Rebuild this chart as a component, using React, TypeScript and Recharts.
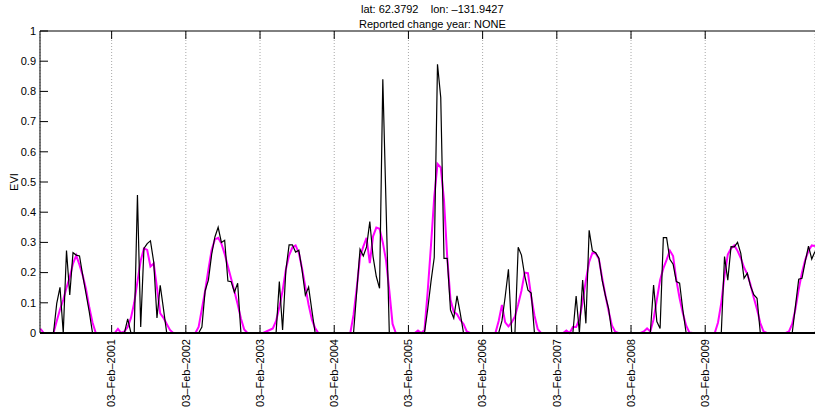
import { LineChart, Line, XAxis, YAxis, CartesianGrid, ReferenceLine } from "recharts";

// 16-day composites; the first year starts at composite 3 (day 49)
const years = [2000, 2001, 2002, 2003, 2004, 2005, 2006, 2007, 2008, 2009, 2010];
const firstComposite = 3;

// raw EVI (black), null = missing
const rawEvi: (number | null)[][] = [
  [null, 0, 0, 0, 0, 0.098, 0.151, 0, 0.273, 0.126, 0.266, 0.258, 0.255, 0.19, 0.13, 0.07, 0, 0, 0, 0],
  [null, null, 0, 0, 0, 0, 0, 0.047, 0, 0, 0.457, 0.02, 0.28, 0.296, 0.305, 0.235, 0.05, 0.158, 0.08, 0, 0, 0, 0],
  [null, null, 0, 0, 0, 0, 0, 0.02, 0.14, 0.175, 0.26, 0.318, 0.35, 0.3, 0.307, 0.172, 0.17, 0.135, 0.165, 0, 0, 0, 0],
  [0, null, null, 0, 0, 0, 0, 0, 0.17, 0.01, 0.207, 0.292, 0.292, 0.268, 0.274, 0.207, 0.125, 0.152, 0.075, 0, 0, 0, 0],
  [null, null, null, 0, 0, 0, 0, 0, 0, 0.14, 0.277, 0.255, 0.285, 0.369, 0.253, 0.187, 0.148, 0.84, 0.42, 0, 0, 0, 0],
  [null, null, null, 0, 0, 0, 0, 0, 0.08, 0.17, 0.25, 0.89, 0.78, 0.247, 0.247, 0.076, 0.049, 0.123, 0.065, 0, 0, 0, 0],
  [null, null, null, 0, 0, 0, 0, 0, 0.04, 0.12, 0.211, 0, 0, 0.284, 0.258, 0.19, 0.142, 0.132, 0, 0, 0, 0, 0],
  [null, null, null, 0, 0, 0, 0, 0, 0.122, 0, 0.175, 0.032, 0.34, 0.272, 0.266, 0.248, 0.175, 0.124, 0.08, 0, 0, 0, 0],
  [0, null, null, null, 0, 0, 0, 0, 0, 0.159, 0.038, 0.015, 0.316, 0.316, 0.244, 0.228, 0.17, 0.165, 0.076, 0, 0, 0, 0],
  [0, null, null, 0, 0, 0, 0, 0, 0.253, 0.175, 0.286, 0.285, 0.3, 0.264, 0.181, 0.198, 0.155, 0.127, 0.115, 0, 0, 0, 0],
  [null, null, null, 0, 0, 0, 0, 0.09, 0.178, 0.181, 0.236, 0.288, 0.245, 0.27],
];

// fitted EVI (magenta)
const fittedEvi: number[][] = [
  [0.014, 0, 0, 0, 0, 0.04, 0.078, 0.11, 0.15, 0.185, 0.23, 0.257, 0.225, 0.19, 0.145, 0.085, 0.035, 0, 0, 0],
  [0, 0, 0, 0, 0.014, 0, 0.005, 0.02, 0.05, 0.1, 0.17, 0.24, 0.28, 0.275, 0.22, 0.23, 0.15, 0.065, 0.05, 0.03, 0.01, 0, 0],
  [0, 0, 0, 0, 0, 0, 0.02, 0.08, 0.14, 0.21, 0.275, 0.31, 0.315, 0.296, 0.262, 0.22, 0.18, 0.138, 0.095, 0.048, 0.012, 0, 0],
  [0, 0, 0, 0, 0.005, 0.01, 0.015, 0.04, 0.085, 0.14, 0.21, 0.257, 0.283, 0.29, 0.265, 0.213, 0.152, 0.093, 0.045, 0.016, 0, 0, 0],
  [0, 0, 0, 0, 0, 0, 0, 0, 0.06, 0.15, 0.253, 0.286, 0.315, 0.231, 0.32, 0.349, 0.345, 0.3, 0.24, 0.14, 0.03, 0, 0],
  [0, 0, 0, 0, 0, 0.008, 0, 0.01, 0.14, 0.29, 0.45, 0.56, 0.548, 0.44, 0.25, 0.11, 0.07, 0.062, 0.043, 0.03, 0.005, 0, 0],
  [0, 0, 0, 0, 0, 0, 0, 0.04, 0.093, 0.035, 0.022, 0.035, 0.055, 0.095, 0.14, 0.2, 0.198, 0.12, 0.058, 0.013, 0, 0, 0],
  [0, 0, 0, 0, 0, 0.008, 0, 0.02, 0.02, 0.045, 0.105, 0.175, 0.235, 0.265, 0.264, 0.245, 0.182, 0.125, 0.072, 0.025, 0.004, 0, 0],
  [0, 0, 0, 0, 0, 0, 0.005, 0.015, 0.005, 0.045, 0.11, 0.175, 0.214, 0.242, 0.273, 0.255, 0.175, 0.115, 0.065, 0.025, 0.002, 0, 0],
  [0, 0, 0, 0, 0, 0, 0.035, 0.1, 0.19, 0.26, 0.28, 0.29, 0.272, 0.248, 0.217, 0.195, 0.16, 0.117, 0.078, 0.033, 0.005, 0, 0],
  [0, 0, 0, 0, 0, 0.005, 0.03, 0.08, 0.145, 0.2, 0.242, 0.272, 0.29, 0.288],
];

const tickYears = [2001, 2002, 2003, 2004, 2005, 2006, 2007, 2008, 2009];
const xTickLabels = [
  "03–Feb–2001", "03–Feb–2002", "03–Feb–2003", "03–Feb–2004", "03–Feb–2005",
  "03–Feb–2006", "03–Feb–2007", "03–Feb–2008", "03–Feb–2009",
];
const yTicks = [0, 0.1, 0.2, 0.3, 0.4, 0.5, 0.6, 0.7, 0.8, 0.9, 1];

const data = years.flatMap((year, i) => {
  const start = i === 0 ? firstComposite : 0;
  return rawEvi[i].map((raw, j) => ({
    t: year + ((start + j) * 16) / 365,
    raw,
    fit: fittedEvi[i][j],
  }));
});

const xTicks = tickYears.map((y) => y + 33 / 365);

const FONT = "'Liberation Sans', Arial, Helvetica, sans-serif";
const PLOT_H = 302;

const XTick = (props: any) => {
  const { x, y, index } = props;
  return (
    <g>
      <line x1={x} y1={y} x2={x} y2={y - 8} stroke="#000" />
      <line x1={x} y1={y - PLOT_H} x2={x} y2={y - PLOT_H + 8} stroke="#000" />
      <text
        x={x}
        y={y + 6}
        transform={`rotate(-90 ${x} ${y + 6})`}
        textAnchor="end"
        dy="0.35em"
        fontSize={11}
        fontFamily={FONT}
        fill="#000"
      >
        {xTickLabels[index]}
      </text>
    </g>
  );
};

const YTick = (props: any) => {
  const { x, y, payload } = props;
  return (
    <g>
      <line x1={x + 4} y1={y} x2={x + 12} y2={y} stroke="#000" />
      <text x={x} y={y} textAnchor="end" dy="0.35em" fontSize={11} fontFamily={FONT} fill="#000">
        {String(payload.value)}
      </text>
    </g>
  );
};

export default function App() {
  return (
    <div style={{ position: "absolute", left: 0, top: 0, width: 815, height: 409, background: "#fff", fontFamily: FONT }}>
      <div style={{ position: "absolute", left: 361, top: 3, fontSize: 11, lineHeight: "13px", whiteSpace: "pre", color: "#000" }}>
        {"lat: 62.3792    lon: –131.9427"}
      </div>
      <div style={{ position: "absolute", left: 359, top: 18, fontSize: 11, lineHeight: "13px", whiteSpace: "pre", color: "#000" }}>
        {"Reported change year: NONE"}
      </div>
      <LineChart width={815} height={409} data={data} margin={{ top: 31, right: 0, bottom: 0, left: 0 }}>
        <CartesianGrid horizontal={false} vertical stroke="#a8a8a8" strokeDasharray="1 2" />
        <XAxis
          dataKey="t"
          type="number"
          domain={[2000.125, 2010.57]}
          allowDataOverflow
          ticks={xTicks}
          interval={0}
          height={76}
          tickSize={0}
          tickMargin={0}
          tickLine={false}
          axisLine={{ stroke: "#000", strokeWidth: 2 }}
          tick={<XTick />}
        />
        <YAxis
          type="number"
          domain={[0, 1]}
          ticks={yTicks}
          interval={0}
          width={40}
          tickSize={0}
          tickMargin={4}
          tickLine={false}
          axisLine={{ stroke: "#000" }}
          tick={<YTick />}
          label={{
            content: () => (
              <text x={14} y={182} transform="rotate(-90 14 182)" textAnchor="middle" dy="0.35em" fontSize={11} fontFamily={FONT} fill="#000">
                EVI
              </text>
            ),
          }}
        />
        <ReferenceLine y={1} stroke="#000" />
        <Line
          type="linear"
          dataKey="fit"
          stroke="#ff00ff"
          strokeWidth={2}
          dot={false}
          activeDot={false}
          isAnimationActive={false}
          zIndex={400}
        />
        <Line
          type="linear"
          dataKey="raw"
          stroke="#000"
          strokeWidth={1.2}
          dot={false}
          activeDot={false}
          connectNulls={false}
          isAnimationActive={false}
          zIndex={610}
        />
      </LineChart>
    </div>
  );
}
